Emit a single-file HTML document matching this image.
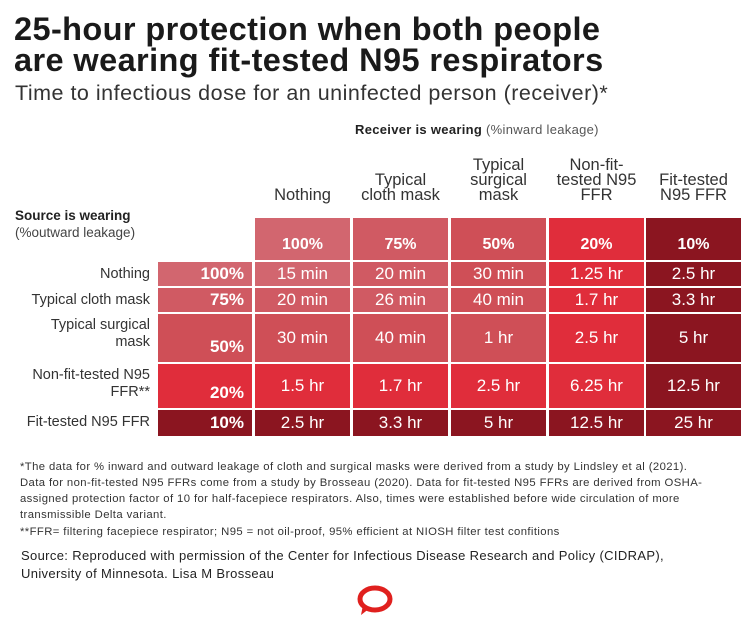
<!DOCTYPE html>
<html><head><meta charset="utf-8"><style>
body{margin:0;width:754px;height:637px;background:#fff;font-family:"Liberation Sans",sans-serif;color:#222;position:relative;overflow:hidden}
.a{position:absolute;white-space:nowrap}
.cell{position:absolute;color:#fff;display:flex;align-items:center;justify-content:center;font-size:17px}
.hdr{position:absolute;text-align:center;font-size:16.5px;line-height:15px;color:#333}
.rl{position:absolute;text-align:right;font-size:14.5px;line-height:17px;color:#333;width:150px;left:0}
.fn{font-size:11.3px;color:#333;line-height:16px;letter-spacing:0.4px}
</style></head><body>
<div class="a" style="left:14px;top:14px;font-size:32.5px;letter-spacing:0.4px;font-weight:bold;line-height:31px;color:#1a1a1a">25-hour protection when both people<br>are wearing fit-tested N95 respirators</div>
<div class="a" style="left:15px;top:81px;font-size:21.5px;letter-spacing:0.5px;color:#333">Time to infectious dose for an uninfected person (receiver)*</div>
<div class="a" style="left:355px;top:122px;font-size:13px;letter-spacing:0.3px;color:#222"><b>Receiver is wearing</b> <span style="color:#555">(%inward leakage)</span></div>
<div class="a" style="left:15px;top:207px;font-size:13.5px;line-height:17px;color:#222"><b>Source is wearing</b><br><span style="color:#444">(%outward leakage)</span></div>
<div id="grid"></div>
<div class="a fn" style="left:20px;top:459px">*The data for % inward and outward leakage of cloth and surgical masks were derived from a study by Lindsley et al (2021).<br>Data for non-fit-tested N95 FFRs come from a study by Brosseau (2020). Data for fit-tested N95 FFRs are derived from OSHA-<br>assigned protection factor of 10 for half-facepiece respirators. Also, times were established before wide circulation of more<br>transmissible Delta variant.</div>
<div class="a fn" style="left:20px;top:524px">**FFR= filtering facepiece respirator; N95 = not oil-proof, 95% efficient at NIOSH filter test confitions</div>
<div class="a" style="left:21px;top:547px;font-size:13px;letter-spacing:0.35px;line-height:18px;color:#222">Source: Reproduced with permission of the Center for Infectious Disease Research and Policy (CIDRAP),<br>University of Minnesota. Lisa M Brosseau</div>
<svg class="a" style="left:355px;top:585px" width="40" height="34" viewBox="0 0 40 34"><ellipse cx="20" cy="14" rx="15" ry="11" fill="none" stroke="#e0201e" stroke-width="5"/><path d="M8 20 L6 30 L15 23z" fill="#e0201e"/></svg>
<script>
const cols=["Nothing","Typical<br>cloth mask","Typical<br>surgical<br>mask","Non-fit-<br>tested N95<br>FFR","Fit-tested<br>N95 FFR"];
const inward=[100,75,50,20,10];
const rowsLbl=["Nothing","Typical cloth mask","Typical surgical<br>mask","Non-fit-tested N95<br>FFR**","Fit-tested N95 FFR"];
const outward=[100,75,50,20,10];
const times=[["15 min","20 min","30 min","1.25 hr","2.5 hr"],["20 min","26 min","40 min","1.7 hr","3.3 hr"],["30 min","40 min","1 hr","2.5 hr","5 hr"],["1.5 hr","1.7 hr","2.5 hr","6.25 hr","12.5 hr"],["2.5 hr","3.3 hr","5 hr","12.5 hr","25 hr"]];
const colX=[255,353,451,549,646], cw=95;
const rowY=[262,288,314,364,410], rowH=[24,24,48,44,26];
function color(l){return {100:"#d2666f",75:"#d05a63",50:"#cf4f57",20:"#e02d3b",10:"#8b1520"}[l];}
const g=document.getElementById('grid');
function mk(cls,x,y,w,h,html,bg){const d=document.createElement('div');d.className=cls;d.style.left=x+'px';d.style.top=y+'px';d.style.width=w+'px';if(h)d.style.height=h+'px';if(bg)d.style.background=bg;d.innerHTML=html;g.appendChild(d);return d;}
cols.forEach((c,j)=>{
 const h=mk('hdr',colX[j],140,cw,0,c);h.style.top='';h.style.bottom=(637-203)+'px';
 
 
 const p=mk('cell',colX[j],218,cw,42,'<b style="font-size:16px;margin-top:12px">'+inward[j]+'%</b>',color(inward[j]));
 
 
});
rowsLbl.forEach((r,i)=>{
 const l=mk('rl',0,rowY[i]+(rowH[i]>30?3:4),150,0,r);l.style.height='';
 
 
 const s=mk('cell',158,rowY[i],94,rowH[i],'<b>'+outward[i]+'%</b>',color(outward[i]));
 s.style.justifyContent='flex-end';s.style.width='86px';s.style.paddingRight='8px';
 if(rowH[i]>30)s.style.alignItems='flex-end',s.style.paddingBottom='5px',s.style.height=(rowH[i]-5)+'px';
 
 
 times[i].forEach((t,j)=>{
  const c=mk('cell',colX[j],rowY[i],cw,rowH[i],t,color(Math.min(outward[i],inward[j])));
  
  
 });
});
</script>
</body></html>
